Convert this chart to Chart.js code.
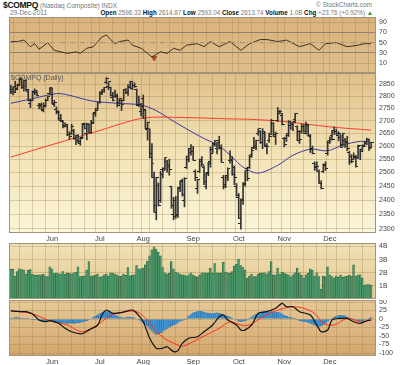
<!DOCTYPE html>
<html><head><meta charset="utf-8">
<script src="https://cdn.jsdelivr.net/npm/chart.js@4.4.1/dist/chart.umd.min.js"></script>
<style>
body{margin:0;background:#fff;width:400px;height:365px;overflow:hidden;position:relative;font-family:'Liberation Sans',Arial,sans-serif}
canvas{position:absolute;left:0}
.t{position:absolute;white-space:nowrap;line-height:1}
.g{color:#777;font-weight:normal}
b{color:#111}
</style></head><body>
<div class="t" style="left:3px;top:1px;font-size:8.5px;font-weight:bold;color:#111;letter-spacing:-0.3px">$COMPQ <span class="g" style="font-size:6.5px;letter-spacing:0">(Nasdaq Composite) INDX</span></div>
<div class="t g" style="right:28px;top:2px;font-size:6.5px">© StockCharts.com</div>
<div class="t g" style="left:10px;top:10px;font-size:6.5px">29-Dec-2011</div>
<div class="t g" style="right:27px;top:10px;font-size:6.3px"><b>Open</b> 2596.33 <b>High</b> 2614.87 <b>Low</b> 2593.04 <b>Close</b> 2613.74 <b>Volume</b> 1.0B <b>Chg</b> +23.76 (+0.92%) <span style="color:#2a9a3a">▲</span></div>
<canvas id="cR" width="400" height="56" style="top:17px"></canvas>
<canvas id="cP" width="400" height="172" style="top:73px"></canvas>
<canvas id="cV" width="400" height="56" style="top:243px"></canvas>
<canvas id="cM" width="400" height="65" style="top:300px"></canvas>
<div class="t" style="left:11px;top:74px;font-size:7px;color:#555">$COMPQ (Daily)</div>
<script>
// ---------- DATA (trading-day index 0 = 4-May-2011 ... 166 = 29-Dec-2011) ----------
const monthDays  = [19, 41, 61, 84, 105, 126, 147];
const monthNames = ['Jun','Jul','Aug','Sep','Oct','Nov','Dec'];
const gridDays   = [1,7,13,19,25,31,37,41,47,53,59,61,67,73,79,84,90,96,102,105,111,117,123,126,132,138,144,147,153,159,165];

const open = [
 2841,2818,2838,2830,2850,2871,2835,2866,2820,2770,2781,2820,2815,2760,2765,2740,2757,2783,2810,
 2830,2767,2745,2736,2710,2695,2680,2675,2646,2650,2660,2630,2640,2608,2633,2684,2650,2684,2652,2694,2733,2747,
 2772,2812,2820,2855,2840,2835,2795,2800,2801,2775,2782,2782,2828,2815,2836,2830,2845,2828,2760,2735,
 2790,2739,2666,2667,2570,2480,2380,2452,2400,2510,2515,2540,2530,2450,2350,2400,2348,2440,2470,2400,2520,2550,2590,
 2580,2505,2440,2505,2540,2520,2450,2500,2540,2585,2610,2590,2620,2595,2480,2450,2490,2545,2550,2520,2450,
 2410,2320,2400,2455,2515,2520,2560,2595,2595,2650,2655,2612,2650,2600,2620,2645,2690,2645,2700,2730,2722,
 2630,2630,2650,2680,2685,2705,2675,2655,2655,2675,2650,2680,2640,2590,2535,2520,2505,2460,2505,2530,2570,
 2615,2640,2660,2655,2640,2635,2605,2620,2618,2575,2560,2550,2560,2555,2600,2585,2603,2610,2625,2596.33];
const high = [
 2845,2838,2862,2850,2876,2876,2866,2869,2826,2787,2821,2830,2822,2770,2771,2771,2788,2799,2835,
 2833,2782,2755,2740,2725,2700,2691,2683,2656,2686,2665,2643,2645,2633,2689,2690,2690,2688,2701,2730,2745,2775,
 2818,2827,2836,2877,2860,2837,2815,2825,2809,2790,2785,2827,2831,2848,2862,2856,2855,2829,2800,2770,
 2804,2742,2694,2667,2610,2502,2483,2462,2505,2518,2556,2546,2550,2450,2410,2414,2446,2469,2476,2481,2562,2590,2606,
 2599,2510,2475,2550,2560,2525,2500,2538,2597,2608,2622,2615,2638,2605,2490,2490,2518,2582,2560,2525,2460,
 2424,2405,2463,2507,2520,2566,2591,2634,2623,2667,2660,2668,2655,2610,2650,2705,2692,2655,2753,2741,2729,
 2634,2645,2700,2693,2696,2729,2679,2660,2686,2685,2694,2685,2645,2600,2540,2540,2510,2470,2532,2540,2620,
 2636,2660,2675,2666,2656,2644,2650,2630,2638,2580,2567,2574,2565,2604,2589,2605,2619,2631,2628,2614.87];
const low = [
 2810,2805,2818,2826,2846,2831,2820,2822,2780,2752,2780,2805,2800,2747,2745,2735,2755,2781,2805,
 2768,2757,2727,2702,2700,2671,2675,2640,2625,2645,2626,2605,2612,2603,2630,2667,2624,2650,2648,2690,2717,2743,
 2770,2806,2815,2852,2827,2800,2780,2794,2755,2765,2740,2780,2810,2802,2834,2826,2836,2763,2756,2718,
 2708,2668,2623,2555,2482,2357,2331,2379,2392,2480,2510,2501,2490,2371,2331,2336,2339,2430,2414,2376,2515,2540,2565,
 2545,2470,2424,2500,2523,2456,2440,2488,2520,2575,2600,2570,2588,2538,2440,2445,2470,2535,2490,2455,2414,
 2335,2299,2385,2450,2470,2515,2557,2590,2585,2642,2610,2590,2598,2570,2614,2645,2636,2606,2696,2727,2683,
 2597,2618,2637,2665,2660,2691,2620,2610,2650,2654,2646,2638,2575,2570,2508,2505,2460,2440,2500,2508,2565,
 2610,2623,2645,2644,2620,2595,2600,2595,2582,2530,2536,2549,2520,2552,2548,2580,2598,2605,2583,2593.04];
const close = [
 2828,2815,2827,2843,2872,2845,2863,2828,2783,2783,2815,2823,2803,2759,2746,2761,2782,2796,2835,
 2769,2773,2733,2702,2701,2675,2684,2643,2639,2678,2631,2623,2616,2629,2688,2669,2686,2652,2688,2729,2740,2774,
 2816,2825,2834,2873,2860,2802,2782,2796,2762,2789,2765,2826,2814,2834,2859,2842,2839,2765,2766,2756,
 2745,2669,2693,2556,2532,2357,2482,2381,2492,2508,2555,2523,2511,2380,2341,2346,2446,2467,2419,2479,2562,2577,2579,
 2546,2480,2473,2549,2529,2467,2496,2532,2572,2607,2622,2613,2590,2538,2456,2483,2516,2546,2491,2480,2415,
 2335,2404,2460,2506,2479,2566,2583,2604,2620,2667,2614,2657,2604,2598,2637,2699,2638,2650,2738,2737,2684,
 2606,2640,2698,2686,2695,2727,2621,2625,2678,2657,2686,2639,2588,2573,2523,2521,2460,2441,2527,2516,2620,
 2626,2626,2655,2649,2649,2596,2647,2613,2591,2540,2541,2555,2523,2603,2578,2599,2619,2626,2590,2613.74];

const ma50Day = [0,9,21,26,37,49,60,67,75,87,96,102,107,114,123,130,138,146,153,161,166];
const ma50    = [2770,2787,2810,2805,2780,2770,2763,2740,2697,2638,2600,2558,2520,2498,2527,2565,2588,2582,2604,2618,2615];
const ma200Day = [0,20,40,61,80,100,110,125,147,166];
const ma200    = [2558,2608,2658,2710,2712,2707,2705,2697,2675,2662];

const rsiDay = [0,3,6,9,11,13,17,20,26,30,32,35,38,42,44,46,48,50,54,56,60,63,65,69,72,75,78,81,86,89,92,96,101,106,110,115,118,123,127,133,138,142,145,150,155,160,163,166];
const rsi    = [52,52,55,42,48,37,50,35,29,32,29,39,42,61,65,56,48,52,55,45,39,29,22,32,29,39,35,45,48,42,52,42,52,35,48,56,56,52,55,42,48,35,48,50,42,45,48,48];
const oversoldDay = [66];
const oversoldVal = [20];

const volume = [
 2.27,2.27,1.75,2.1,2.3,2.25,2.2,1.9,2.2,2.25,1.88,1.8,1.8,1.85,1.85,1.88,1.75,1.7,2.45,
 2.3,1.93,1.95,1.93,1.88,2.1,1.88,2.0,1.95,1.9,2.0,2.05,2.45,1.7,1.72,1.76,2.2,2.85,1.76,1.76,1.8,1.88,
 1.65,1.7,1.85,1.88,1.72,2.0,1.95,1.9,1.85,1.75,1.72,1.88,1.8,2.4,1.76,1.8,1.85,2.55,2.3,2.3,
 2.35,2.6,2.9,3.3,3.75,3.97,3.8,3.55,3.3,2.4,2.0,1.9,1.95,2.85,2.3,2.05,2.0,1.9,1.85,1.85,1.75,1.85,2.0,
 1.85,1.75,1.65,1.8,2.0,2.0,2.0,1.95,2.35,1.95,2.7,2.0,1.95,2.0,2.8,2.05,2.0,1.95,2.1,2.5,2.65,
 3.05,2.55,2.4,2.2,1.6,1.75,1.9,1.7,1.7,1.9,1.95,2.0,2.0,1.9,2.1,2.85,1.85,1.85,2.35,1.9,2.05,
 2.0,1.9,1.85,1.65,1.85,2.0,2.35,2.0,1.8,1.6,1.85,1.95,2.3,2.2,1.75,2.0,1.7,0.75,1.75,1.7,2.45,
 1.85,1.7,1.6,1.75,1.65,1.8,1.65,1.7,1.75,1.8,1.75,2.6,1.75,1.85,1.85,1.6,1.05,1.1,1.1,1.05];

const macdDay = [0,4,7,10,13,16,18,22,25,28,32,34,36,40,42,44,47,51,56,58,61,64,67,70,72,75,77,79,82,86,89,93,96,98,100,104,106,108,111,114,118,122,125,127,130,133,138,141,143,146,148,152,155,158,161,164,166];
const macd    = [24,21.5,21.5,14.7,-3,-8,-5,-12.6,-27.4,-37.4,-44,-40,-32,-17.6,11.8,26.5,16.8,18.6,26.5,16.8,-8,-56.8,-86,-86,-81.5,-96,-93,-71.5,-56.8,-52,-37.4,-17.6,6.8,11.8,-3,-17.6,-32.4,-32,-17.6,16.8,21.5,31.5,46,36,36,21.5,11.8,-17.6,-37.4,-32.4,-3,2,2,-8,-12.6,-5,-3];
const signalDay = [0,9,18,26,32,36,41,46,53,58,63,67,72,77,79,84,90,96,101,106,110,115,121,126,130,135,140,144,149,155,161,166];
const signal    = [24,16.8,-5,-17.6,-37,-32,-12.6,11.8,21.5,21.5,-3,-37,-61.7,-76.5,-81,-66.7,-47,-27.4,-8,-17.6,-17.6,2,21.5,31.5,36,31.5,16.8,-12.6,-17.6,2,-8,-3];
const hist = [
 3,3,4,4,3,3,2,2,1,0,-1,-2,-3,-4,-4,-5,-6,-5,-6,
 -8,-9,-10,-11,-12,-11,-12,-13,-12,-12,-13,-12,-11,-10,-8,-6,-5,-3,0,4,8,12,
 16,19,22,24,23,20,17,12,9,6,4,3,4,5,5,4,3,0,-3,-6,
 -10,-15,-20,-28,-35,-42,-45,-44,-40,-36,-32,-28,-24,-20,-17,-14,-10,-6,-4,-1,3,8,13,
 18,20,22,23,22,20,18,17,16,15,17,18,17,15,12,10,8,5,3,0,-3,
 -6,-7,-6,-5,-2,2,6,10,14,17,19,21,22,21,20,22,21,19,20,18,14,
 10,8,6,4,3,1,-2,-4,-6,-7,-8,-10,-12,-15,-18,-20,-22,-20,-16,-12,-6,
 -2,2,5,8,10,11,10,9,6,3,1,-1,-3,-5,-6,-5,-3,0,3,4];

const rsiTicks  = [90,70,50,30,10];
const priceTicks = [2850,2800,2750,2700,2650,2600,2550,2500,2450,2400,2350,2300];
const volTicks  = [4,3,2,1];
const macdTicks = [50,25,0,-25,-50,-75,-100];

// ---------- RENDER ----------
const FONT = "'Liberation Sans', Arial, sans-serif";
const XMIN = -0.4, XMAX = 167.8;
const days = close.map((_, i) => i);
const pts = (xs, ys) => xs.map((x, k) => ({x, y: ys[k]}));
const GRID = 'rgba(150,118,70,0.3)';

const bgPlugin = {
  id: 'bg',
  beforeDraw(chart, args, o) {
    const {ctx, chartArea: a} = chart;
    const g = ctx.createLinearGradient(0, a.top, 0, a.bottom);
    o.stops.forEach(s => g.addColorStop(s[0], s[1]));
    ctx.save(); ctx.fillStyle = g; ctx.fillRect(a.left, a.top, a.width, a.height); ctx.restore();
  },
  afterDraw(chart) {
    const {ctx, chartArea: a} = chart;
    ctx.save(); ctx.strokeStyle = '#a39479'; ctx.lineWidth = 1;
    ctx.strokeRect(Math.round(a.left) - 0.5, Math.round(a.top) + 0.5, Math.round(a.width) + 1, Math.round(a.height) - 1);
    ctx.restore();
  }
};
Chart.register(bgPlugin);

function xAxis(labels, h) {
  return {type: 'linear', min: XMIN, max: XMAX, offset: false,
    afterBuildTicks: s => { s.ticks = gridDays.map(v => ({value: v})); },
    afterFit: s => { s.height = h; s.paddingLeft = 0; s.paddingRight = 0; },
    ticks: {display: labels, autoSkip: false, maxRotation: 0, padding: 1, color: '#444',
      font: {size: 7.5, family: FONT},
      callback: v => { const k = monthDays.indexOf(v); return k >= 0 ? monthNames[k] : ''; }},
    grid: {drawTicks: false, color: GRID, lineWidth: 1},
    border: {display: false}};
}
function yAxis(type, min, max, ticks, fmt, gridColor) {
  return {type, position: 'right', min, max,
    afterBuildTicks: s => { s.ticks = ticks.map(v => ({value: v})); },
    afterFit: s => { s.width = 25; s.paddingTop = 0; s.paddingBottom = 0; },
    ticks: {autoSkip: false, padding: 4, color: '#444', font: {size: 7, family: FONT}, callback: fmt},
    grid: {drawTicks: false, color: gridColor || GRID, lineWidth: 1},
    border: {display: false}};
}
function base(stops, scales) {
  return {responsive: false, animation: false, devicePixelRatio: 1,
    layout: {padding: {left: 10, right: 0, top: 0, bottom: 0}, autoPadding: false},
    plugins: {legend: {display: false}, tooltip: {enabled: false}, bg: {stops}},
    scales};
}
function tickImg(side) {
  const c = document.createElement('canvas'); c.width = 5; c.height = 1;
  const g = c.getContext('2d'); g.fillStyle = '#222'; g.fillRect(side < 0 ? 0 : 3, 0, 2, 1);
  return c;
}

// RSI panel
new Chart(document.getElementById('cR'), {
  type: 'line',
  data: {datasets: [
    {data: [{x: XMIN, y: 50}, {x: XMAX, y: 50}], borderColor: '#a08f7a', borderWidth: 1, borderDash: [5, 2, 1, 2], pointRadius: 0},
    {data: pts(rsiDay, rsi), borderColor: '#2a2418', borderWidth: 0.9, pointRadius: 0, tension: 0},
    {data: pts(oversoldDay, oversoldVal), showLine: false, pointStyle: 'triangle', rotation: 180, pointRadius: 3, backgroundColor: '#b8402a', borderColor: '#7a2a1a', borderWidth: 0.5}
  ]},
  options: base([[0, '#d9b27c'], [1, '#e0bf8c']], {
    x: xAxis(false, 0),
    y: yAxis('linear', -9.3, 100, rsiTicks, v => String(v),
      c => (c.tick && (c.tick.value === 70 || c.tick.value === 30)) ? '#8f8270' : (c.tick && c.tick.value === 50 ? 'rgba(0,0,0,0)' : GRID))
  })
});

// Price panel
new Chart(document.getElementById('cP'), {
  type: 'bar',
  data: {datasets: [
    {type: 'line', data: pts(ma200Day, ma200), borderColor: '#ff3a2a', borderWidth: 1, pointRadius: 0, tension: 0.3, order: 3},
    {type: 'line', data: pts(ma50Day, ma50), borderColor: '#3a3a9c', borderWidth: 1, pointRadius: 0, tension: 0.3, order: 3},
    {type: 'bar', data: days.map(i => ({x: i, y: [low[i], high[i]]})), backgroundColor: '#333', barThickness: 1, grouped: false, order: 1},
    {type: 'line', data: pts(days, open), showLine: false, pointStyle: tickImg(-1), pointRadius: 2, order: 0},
    {type: 'line', data: pts(days, close), showLine: false, pointStyle: tickImg(1), pointRadius: 2, order: 0}
  ]},
  options: base([[0, '#e0bf8b'], [0.45, '#f1e0b2'], [1, '#fbf5d9']], {
    x: xAxis(true, 12),
    y: yAxis('logarithmic', 2286, 2897, priceTicks, v => String(v))
  })
});

// Volume panel
new Chart(document.getElementById('cV'), {
  type: 'bar',
  data: {datasets: [
    {data: days.map(i => ({x: i, y: volume[i]})), backgroundColor: '#4b9668', borderColor: '#275c3a', borderWidth: {left: 0.6, right: 0, top: 0.6, bottom: 0}, barThickness: 2.2, borderSkipped: 'bottom'}
  ]},
  options: base([[0, '#f0e1b5'], [1, '#e3c792']], {
    x: xAxis(false, 0),
    y: yAxis('linear', 0, 4.27, volTicks, v => v + 'B')
  })
});

// MACD panel
new Chart(document.getElementById('cM'), {
  type: 'bar',
  data: {datasets: [
    {type: 'bar', data: days.map(i => ({x: i, y: hist[i]})), backgroundColor: '#3f93d2', borderColor: '#2a6aa0', borderWidth: 0.4, barThickness: 2.2, order: 3},
    {type: 'line', data: pts(signalDay, signal), borderColor: '#ff3020', borderWidth: 1, pointRadius: 0, tension: 0.3, order: 2},
    {type: 'line', data: pts(macdDay, macd), borderColor: '#111', borderWidth: 1.2, pointRadius: 0, tension: 0.3, order: 1}
  ]},
  options: base([[0, '#e6ca98'], [1, '#d3a66d']], {
    x: xAxis(true, 9),
    y: yAxis('linear', -108.8, 55.9, macdTicks, v => String(v))
  })
});
</script>
</body></html>
